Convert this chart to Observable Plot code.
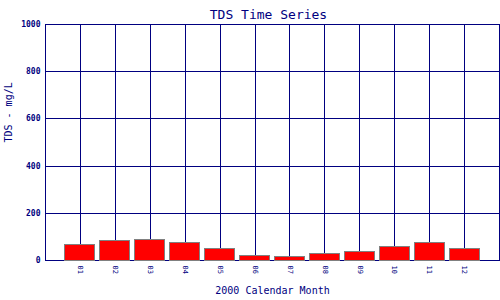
<!DOCTYPE html>
<html>
<head>
<meta charset="utf-8">
<script src="https://cdn.jsdelivr.net/npm/d3@7"></script>
<script src="https://cdn.jsdelivr.net/npm/@observablehq/plot@0.6"></script>
<style>
  html, body { margin: 0; padding: 0; background: #ffffff; }
</style>
</head>
<body>
<div id="chart"></div>
<script>
const months = [1, 2, 3, 4, 5, 6, 7, 8, 9, 10, 11, 12];
const monthLabels = ["01", "02", "03", "04", "05", "06", "07", "08", "09", "10", "11", "12"];
const tds = [66, 83, 88, 75, 50, 18, 14, 28, 37, 58, 75, 50];
const yTicks = [0, 200, 400, 600, 800, 1000];
const title = "TDS Time Series";
const xTitle = "2000 Calendar Month";
const yTitle = "TDS - mg/L";

const navy = "#000080";
const data = months.map((m, i) => ({ m, v: tds[i] }));

const chart = Plot.plot({
  width: 500,
  height: 300,
  marginLeft: 45,
  marginRight: 1,
  marginTop: 24,
  marginBottom: 40,
  style: { fontFamily: "DejaVu Sans Mono", background: "#ffffff" },
  x: { domain: [0, 13], label: null },
  y: { domain: [0, 1000], label: null },
  marks: [
    Plot.gridX(d3.range(0, 14), { stroke: navy, strokeOpacity: 1, strokeWidth: 1, shapeRendering: "crispEdges" }),
    Plot.gridY(yTicks, { stroke: navy, strokeOpacity: 1, strokeWidth: 1, shapeRendering: "crispEdges" }),
    Plot.frame({ stroke: navy, strokeWidth: 1, shapeRendering: "crispEdges" }),
    Plot.rectY(data, {
      x1: d => d.m - 0.43,
      x2: d => d.m + 0.43,
      y: "v",
      fill: "#ff0000",
      stroke: "#808080",
      strokeWidth: 1,
      shapeRendering: "crispEdges"
    }),
    Plot.axisX(months, {
      tickSize: 0,
      tickPadding: 5,
      tickRotate: 90,
      tickFormat: d => monthLabels[months.indexOf(d)],
      fontSize: 7,
      fill: navy
    }),
    Plot.axisY(yTicks, {
      tickSize: 0,
      tickPadding: 5,
      tickFormat: d => String(d),
      fontSize: 8,
      fontWeight: "bold",
      fill: navy
    }),
    Plot.text([title], {
      frameAnchor: "top",
      dy: -15,
      dx: -4,
      fontSize: 13,
      fill: navy
    }),
    Plot.text([xTitle], {
      frameAnchor: "bottom",
      dy: 33,
      fontSize: 10,
      fill: navy
    }),
    Plot.text([yTitle], {
      frameAnchor: "left",
      dx: -37,
      rotate: -90,
      fontSize: 10,
      fill: navy
    })
  ]
});
document.getElementById("chart").appendChild(chart);
</script>
</body>
</html>
